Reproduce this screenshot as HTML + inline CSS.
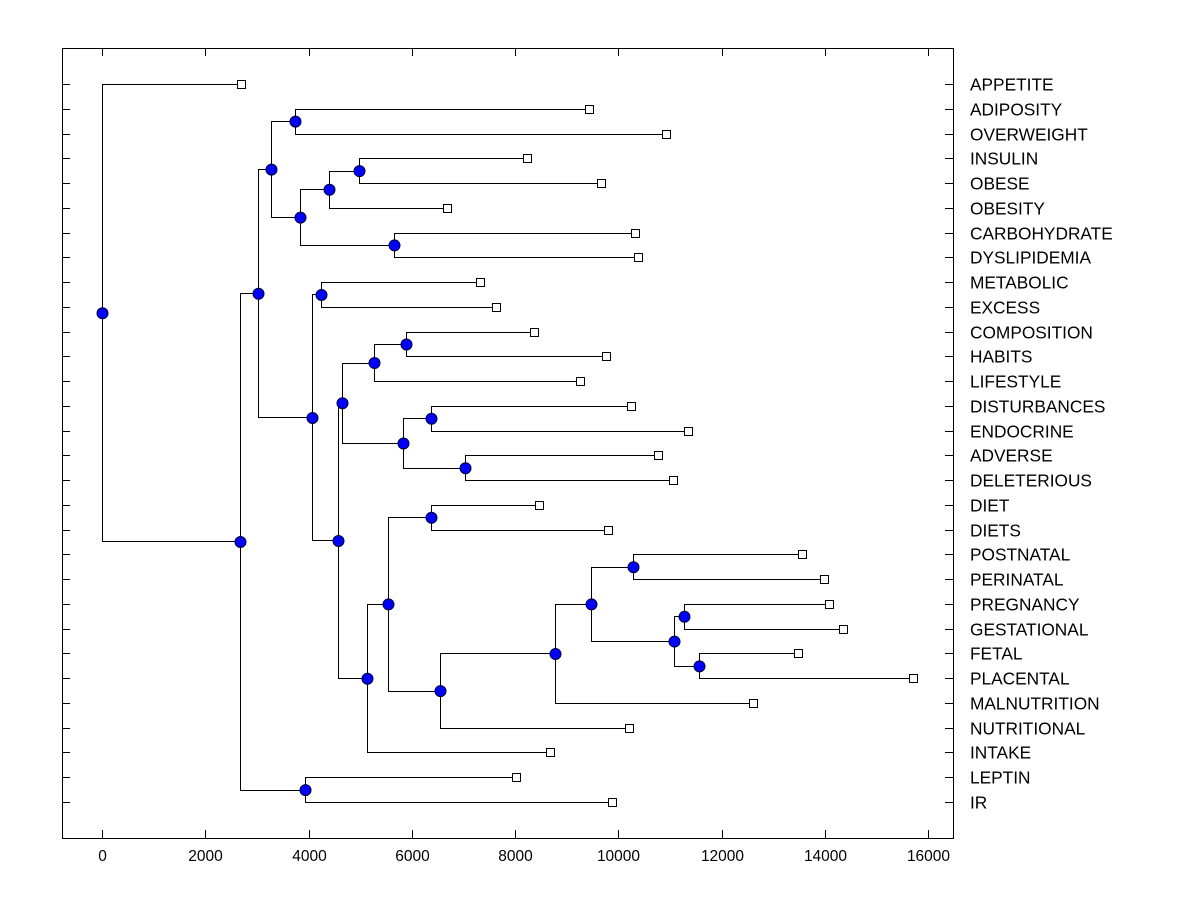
<!DOCTYPE html>
<html><head><meta charset="utf-8"><style>
body{margin:0;background:#fff}
svg{display:block;font-family:"Liberation Sans",Arial,sans-serif}
</style></head><body>
<svg id="chart" width="1200" height="900" viewBox="0 0 1200 900" xmlns="http://www.w3.org/2000/svg"></svg>
<script>
const leafNames = ["APPETITE","ADIPOSITY","OVERWEIGHT","INSULIN","OBESE","OBESITY","CARBOHYDRATE","DYSLIPIDEMIA","METABOLIC","EXCESS","COMPOSITION","HABITS","LIFESTYLE","DISTURBANCES","ENDOCRINE","ADVERSE","DELETERIOUS","DIET","DIETS","POSTNATAL","PERINATAL","PREGNANCY","GESTATIONAL","FETAL","PLACENTAL","MALNUTRITION","NUTRITIONAL","INTAKE","LEPTIN","IR"];
const leafValues = [2615,9355,10850,8155,9590,6605,10250,10305,7245,7555,8290,9685,9180,10170,11275,10695,10985,8390,9725,13480,13910,14005,14275,13405,15630,12530,10130,8600,7940,9800];
const nodeNames = ["root","N1","N2","N3","N4","N5","N6","N7","N8","N9","N10","N11","N12","N13","N14","N15","N16","N17","N18","N19","N20","N21","N22","N23","N24","N25","N26","N27","N28"];
const nodeValues = [0,2673,3022,3273,3738,3835,4397,4978,5656,4068,4242,4571,4649,5269,5889,5831,6373,7031,5133,5540,6373,6547,8775,9472,10286,11080,11274,11564,3932];
const nodeChildren = [["L:0","N:1"],["N:2","N:28"],["N:3","N:9"],["N:4","N:5"],["L:1","L:2"],["N:6","N:8"],["N:7","L:5"],["L:3","L:4"],["L:6","L:7"],["N:10","N:11"],["L:8","L:9"],["N:12","N:18"],["N:13","N:15"],["N:14","L:12"],["L:10","L:11"],["N:16","N:17"],["L:13","L:14"],["L:15","L:16"],["N:19","L:27"],["N:20","N:21"],["L:17","L:18"],["N:22","L:26"],["N:23","L:25"],["N:24","N:25"],["L:19","L:20"],["N:26","N:27"],["L:21","L:22"],["L:23","L:24"],["L:28","L:29"]];
const xTicks = [0,2000,4000,6000,8000,10000,12000,14000,16000];

const NS="http://www.w3.org/2000/svg";
const svg=document.getElementById('chart');
const X0=62,X1=953,Y0=48,Y1=838;
const xs=v=>102+v*(826/16000);
const ys=i=>84+i*((802-84)/(leafNames.length-1));
function mk(tag,attrs,parent){const e=document.createElementNS(NS,tag);for(const k in attrs)e.setAttribute(k,attrs[k]);(parent||svg).appendChild(e);return e;}

const frame=mk('rect',{x:X0+0.5,y:Y0+0.5,width:X1-X0,height:Y1-Y0,fill:'none',stroke:'#000','stroke-width':1});



xTicks.forEach(t=>{
  const x=Math.round(xs(t))+0.5;
  const tb=mk('line',{x1:x,x2:x,y1:Y1,y2:Y1-8,stroke:'#000'});
  
  
  const tt=mk('line',{x1:x,x2:x,y1:Y0,y2:Y0+8,stroke:'#000'});
  
  
  const lb=mk('text',{x:x,y:861,'text-anchor':'middle','font-size':15.5});
  lb.textContent=t;
  
  
});

leafNames.forEach((n,i)=>{
  const y=Math.round(ys(i))+0.5;
  const a=mk('line',{x1:X0,x2:X0+8,y1:y,y2:y,stroke:'#000'});
  
  
  const b=mk('line',{x1:X1-8,x2:X1,y1:y,y2:y,stroke:'#000'});
  
  
  const t=mk('text',{x:970,y:y+6,'font-size':17.3});
  t.textContent=n;
  
  
});

function pos(ref){
  const [k,s]=ref.split(':');const i=+s;
  if(k==='L')return {x:xs(leafValues[i]),y:ys(i)};
  const c=nodeChildren[i].map(pos);
  return {x:xs(nodeValues[i]),y:(c[0].y+c[1].y)/2};
}
const gL=mk('g',{});


const marks=[];
nodeChildren.forEach((ch,i)=>{
  const p=pos('N:'+i);const c=ch.map(pos);
  const px=Math.round(p.x)+0.5;
  const d=`M${Math.round(c[0].x)},${Math.round(c[0].y)+0.5}H${px}V${Math.round(c[1].y)+0.5}H${Math.round(c[1].x)}`;
  const path=mk('path',{d:d,fill:'none',stroke:'#000','stroke-width':1},gL);
  
  
  marks.push(['node',px,p.y]);
});
leafNames.forEach((n,i)=>{
  const p=pos('L:'+i);
  const r=mk('rect',{x:Math.round(p.x)+0.5,y:Math.round(p.y)-3.5,width:8,height:8,fill:'#fff',stroke:'#000'});
  
  
});
marks.forEach(m=>{
  const c=mk('circle',{cx:m[1],cy:m[2]+0.5,r:5.5,fill:'#0000ff',stroke:'#000033','stroke-width':1});
  
  
});
</script>
</body></html>
